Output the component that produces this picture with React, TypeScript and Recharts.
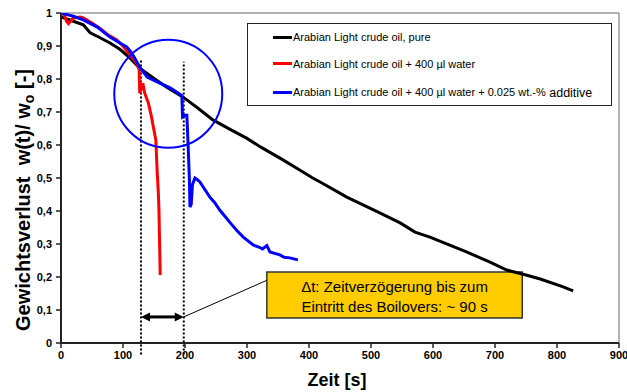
import React from 'react';
import { Label, Legend, Line, LineChart, ReferenceArea, ReferenceDot, ReferenceLine, XAxis, YAxis } from 'recharts';

const FONT = '"Liberation Sans", Arial, sans-serif';

// time [s] and relative weight w(t)/w0 for each run
const pureT = [0, 20, 36, 47, 60, 79, 95, 111, 127, 149, 170, 197, 220, 245, 272, 300, 321, 358, 385, 406, 418, 461, 471, 510, 547, 571, 595, 654, 692, 719, 750, 773, 810, 826];
const pureW = [0.988, 0.975, 0.964, 0.94, 0.928, 0.909, 0.89, 0.864, 0.833, 0.803, 0.776, 0.745, 0.713, 0.676, 0.648, 0.62, 0.595, 0.555, 0.524, 0.5, 0.488, 0.442, 0.433, 0.398, 0.364, 0.336, 0.321, 0.276, 0.245, 0.221, 0.206, 0.194, 0.17, 0.158];

const waterT = [0, 5, 9, 12, 20, 31, 36, 50, 63, 75, 90, 100, 111, 122, 126, 127, 132, 135, 141, 146, 149, 153, 155, 157, 158, 160];
const waterW = [1.0, 0.995, 0.975, 0.968, 0.985, 0.988, 0.985, 0.97, 0.953, 0.935, 0.918, 0.9, 0.873, 0.848, 0.83, 0.757, 0.787, 0.757, 0.727, 0.685, 0.654, 0.615, 0.524, 0.455, 0.403, 0.206];

const additiveT = [0, 10, 20, 36, 58, 79, 95, 106, 114, 120, 127, 139, 155, 176, 195, 196, 200, 203, 205, 207, 208, 210, 212, 216, 220, 224, 232, 240, 248, 256, 264, 273, 284, 294, 310, 320, 325, 332, 337, 353, 360, 369, 382];
const additiveW = [1.0, 0.995, 0.99, 0.979, 0.958, 0.927, 0.909, 0.897, 0.879, 0.86, 0.836, 0.806, 0.791, 0.773, 0.75, 0.685, 0.69, 0.69, 0.6, 0.5, 0.412, 0.42, 0.48, 0.5, 0.495, 0.488, 0.465, 0.442, 0.425, 0.403, 0.385, 0.364, 0.34, 0.321, 0.297, 0.29, 0.285, 0.295, 0.276, 0.267, 0.26, 0.258, 0.252];

const xTicks = [0, 100, 200, 300, 400, 500, 600, 700, 800, 900];
const yTicks = [0, 0.1, 0.2, 0.3, 0.4, 0.5, 0.6, 0.7, 0.8, 0.9, 1];

const legendItems = [
  { label: 'Arabian Light crude oil, pure', extra: '', color: '#000000' },
  { label: 'Arabian Light crude oil + 400 µl water', extra: '', color: '#ff0000' },
  { label: 'Arabian Light crude oil + 400 µl water + 0.025 wt.-%', extra: ' additive', color: '#0000ff' },
];

const toRows = (t: number[], w: number[]) => t.map((x, i) => ({ t: x, w: w[i] }));
const pure = toRows(pureT, pureW);
const water = toRows(waterT, waterW);
const additive = toRows(additiveT, additiveW);

const tickStyle = { fontSize: 11, fontWeight: 700, fill: '#000', fontFamily: FONT };

const renderLegend = () => (
  <div
    style={{
      width: 365,
      height: 83,
      boxSizing: 'border-box',
      border: '1px solid #222',
      background: '#fff',
      position: 'relative',
      fontFamily: FONT,
      fontSize: 11,
      color: '#000',
    }}
  >
    {legendItems.map((it, i) => (
      <div key={it.label} style={{ position: 'absolute', left: 25, top: 7 + i * 26.5, display: 'flex', alignItems: 'center', whiteSpace: 'pre' }}>
        <span style={{ display: 'inline-block', width: 19, height: 3, background: it.color, marginRight: 1 }} />
        <span>{it.label}</span>
        {it.extra && <span style={{ fontSize: 12.5, marginTop: 2 }}>{it.extra}</span>}
      </div>
    ))}
  </div>
);

// double headed arrow drawn between the two dotted lines
const DoubleArrow = (props: any) => {
  const { x1, y1, x2, y2 } = props;
  const h = 9;
  const s = 4.5;
  return (
    <g>
      <line x1={x1 + h - 1} y1={y1} x2={x2 - h + 1} y2={y2} stroke="#000" strokeWidth={3} />
      <polygon points={`${x1},${y1} ${x1 + h},${y1 - s} ${x1 + h},${y1 + s}`} fill="#000" />
      <polygon points={`${x2},${y2} ${x2 - h},${y2 - s} ${x2 - h},${y2 + s}`} fill="#000" />
    </g>
  );
};

const boxLabel = (props: any) => {
  const { x, y, width, height } = props.viewBox;
  const cx = x + width / 2;
  return (
    <g fontFamily={FONT} fontSize={15} fill="#000">
      <text x={cx} y={y + height / 2 - 2.5} textAnchor="middle">
        {'\u0394t: Zeitverzögerung bis zum'}
      </text>
      <text x={cx} y={y + height / 2 + 17} textAnchor="middle">
        {'Eintritt des Boilovers: ~ 90 s'}
      </text>
    </g>
  );
};

const yLabel = () => (
  <text
    transform="translate(30, 200) rotate(-90)"
    textAnchor="middle"
    fontFamily={FONT}
    fontSize={20}
    fontWeight={700}
    fill="#000"
    style={{ whiteSpace: 'pre' }}
  >
    {'Gewichtsverlust  w(t)/ w'}
    <tspan fontSize={14} dy={4}>o</tspan>
    <tspan dy={-4}>{' [-]'}</tspan>
  </text>
);

const xLabel = () => (
  <text x={337} y={386} textAnchor="middle" fontFamily={FONT} fontSize={18} fontWeight={700} fill="#000">
    Zeit [s]
  </text>
);

export default function App() {
  return (
    <div style={{ position: 'absolute', left: 0, top: 0, background: '#fff' }}>
      <LineChart width={627} height={392} margin={{ top: 13, right: 8, left: 0, bottom: 19 }}>
        <XAxis
          dataKey="t"
          type="number"
          domain={[0, 900]}
          ticks={xTicks}
          interval={0}
          allowDataOverflow
          height={30}
          tick={tickStyle}
          tickSize={5}
          tickMargin={3}
          axisLine={{ stroke: '#222', strokeWidth: 2 }}
          tickLine={{ stroke: '#222', strokeWidth: 1.5 }}
        >
          <Label content={xLabel} />
        </XAxis>
        <YAxis
          dataKey="w"
          type="number"
          domain={[0, 1]}
          ticks={yTicks}
          interval={0}
          allowDataOverflow
          width={61}
          tick={tickStyle}
          tickSize={5}
          tickMargin={4}
          tickFormatter={(v: number) => String(Math.round(v * 10) / 10).replace('.', ',')}
          axisLine={{ stroke: '#222', strokeWidth: 2 }}
          tickLine={{ stroke: '#222', strokeWidth: 1.5 }}
        >
          <Label content={yLabel} />
        </YAxis>

        <ReferenceLine y={1} stroke="#999" strokeWidth={1.5} />
        <ReferenceLine x={900} stroke="#999" strokeWidth={1.5} />

        <ReferenceArea x1={332} x2={744} y1={0.076} y2={0.215} fill="#ffcc00" fillOpacity={1} stroke="#333" strokeWidth={1.5} label={boxLabel} ifOverflow="visible" />

        <ReferenceLine segment={[{ x: 129, y: -0.035 }, { x: 129, y: 0.857 }]} stroke="#000" strokeWidth={2} strokeDasharray="2 2" ifOverflow="visible" />
        <ReferenceLine segment={[{ x: 198, y: -0.035 }, { x: 198, y: 0.852 }]} stroke="#000" strokeWidth={2} strokeDasharray="2 2" ifOverflow="visible" />
        <ReferenceLine segment={[{ x: 129, y: 0.079 }, { x: 198, y: 0.079 }]} shape={DoubleArrow} ifOverflow="visible" />
        <ReferenceLine segment={[{ x: 198, y: 0.079 }, { x: 332, y: 0.19 }]} stroke="#000" strokeWidth={1} ifOverflow="visible" />

        <Line data={pure} dataKey="w" stroke="#000" strokeWidth={3} dot={false} isAnimationActive={false} />
        <Line data={water} dataKey="w" stroke="#ff0000" strokeWidth={3} dot={false} isAnimationActive={false} />
        <Line data={additive} dataKey="w" stroke="#0000ff" strokeWidth={3} dot={false} isAnimationActive={false} />

        <ReferenceDot x={173} y={0.755} r={54} fill="none" stroke="#0000ff" strokeWidth={2} ifOverflow="visible" />

        <Legend
          layout="horizontal"
          verticalAlign="middle"
          align="center"
          content={renderLegend}
          wrapperStyle={{ position: 'absolute', left: 247, top: 23, width: 365, height: 83 }}
        />
      </LineChart>
    </div>
  );
}
